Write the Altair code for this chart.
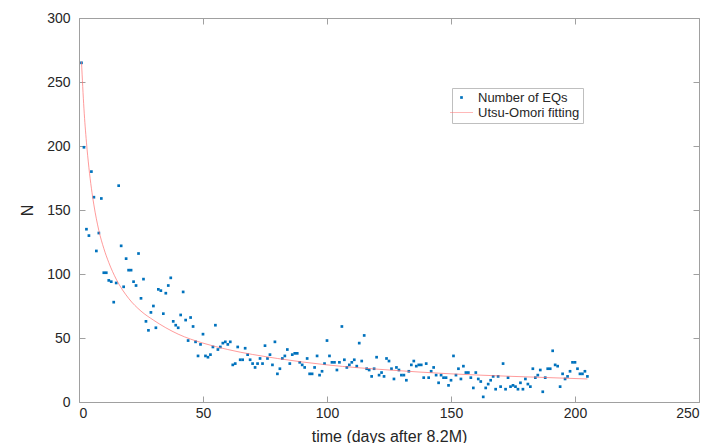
import altair as alt
import pandas as pd

# ---- data ----
days = list(range(1, 206))
counts = [
    265, 199, 135, 130, 180, 160, 118, 132, 159, 101,
    101, 95, 94, 78, 93, 169, 122, 90, 112, 103,
    103, 94, 91, 116, 81, 96, 63, 56, 70, 75,
    58, 88, 87, 69, 85, 91, 97, 63, 60, 58,
    68, 86, 64, 48, 66, 59, 47, 36, 45, 53,
    36, 35, 37, 43, 60, 41, 43, 46, 47, 45,
    47, 29, 30, 43, 33, 33, 42, 37, 33, 30,
    27, 30, 34, 30, 44, 34, 37, 29, 47, 22,
    26, 34, 36, 41, 30, 37, 38, 38, 31, 29,
    27, 34, 22, 22, 27, 36, 21, 24, 30, 48,
    36, 31, 31, 25, 31, 59, 33, 27, 29, 31,
    33, 28, 46, 32, 52, 26, 25, 20, 26, 35,
    21, 23, 20, 34, 32, 26, 18, 27, 25, 21,
    21, 17, 24, 29, 32, 28, 29, 29, 19, 30,
    19, 24, 27, 21, 15, 21, 19, 19, 13, 17,
    36, 21, 26, 18, 28, 23, 23, 19, 11, 23,
    18, 16, 4, 11, 14, 17, 20, 10, 20, 12,
    30, 10, 19, 12, 13, 12, 10, 15, 10, 18,
    14, 12, 26, 19, 21, 25, 8, 19, 26, 26,
    40, 29, 28, 12, 22, 18, 20, 24, 31, 31,
    26, 22, 22, 24, 20,
]
fit_days = [1, 2, 3, 4, 5, 6, 8, 10, 12, 15, 20, 25, 30, 40, 50, 60, 80, 100, 125, 150, 175, 205]
fit_values = [266, 229, 203, 183, 167, 154, 134, 120, 109, 96, 81, 71, 64, 53, 46, 41, 34, 29, 25, 22, 20, 18]
series_names = ["Number of EQs", "Utsu-Omori fitting"]
x_ticks = [0, 50, 100, 150, 200, 250]
y_ticks = [0, 50, 100, 150, 200, 250, 300]

pts = pd.DataFrame({"t": days, "N": counts, "series": series_names[0]})
fit = pd.DataFrame({"t": fit_days, "N": fit_values, "series": series_names[1]})

FONT = "Liberation Sans"
AXIS_GRAY = "#a0a0a0"
TEXT = "#262626"
FIT_RED = "#FF7070"

dot_path = "M-0.27,-0.27L0.27,-0.27L0.27,0.27L-0.27,0.27Z"
line_path = "M-2.3,-0.05L2.3,-0.05L2.3,0.05L-2.3,0.05Z"

xscale = alt.Scale(domain=[0, 250], nice=False, zero=False)
yscale = alt.Scale(domain=[0, 300], nice=False)
color_scale = alt.Scale(domain=series_names, range=["#0072BD", FIT_RED])
shape_scale = alt.Scale(domain=series_names, range=[dot_path, line_path])

common = dict(
    tickSize=6, offset=-6, domain=False, grid=False, tickColor=AXIS_GRAY,
    labelColor=TEXT, labelFont=FONT, labelFontSize=14,
    titleFont=FONT, titleFontSize=16, titleColor=TEXT, titleFontWeight="normal",
)

legend = alt.Legend(
    orient="none", legendX=373, legendY=70,
    symbolSize=100, symbolStrokeWidth=0, symbolOpacity=1,
    labelFont=FONT, labelFontSize=13, labelColor=TEXT,
    strokeColor="#bfbfbf", fillColor="white",
    padding=3, labelOffset=10, rowPadding=1,
)

points = alt.Chart(pts).mark_point(filled=True, size=100, opacity=1).encode(
    x=alt.X("t:Q", scale=xscale, title="time (days after 8.2M)",
            axis=alt.Axis(orient="bottom", values=x_ticks, labelPadding=4, titlePadding=8, **common)),
    y=alt.Y("N:Q", scale=yscale, title="N",
            axis=alt.Axis(orient="left", values=y_ticks, labelPadding=9, titlePadding=11, **common)),
    color=alt.Color("series:N", scale=color_scale, title=None, legend=legend),
    shape=alt.Shape("series:N", scale=shape_scale, title=None, legend=legend),
)

line = alt.Chart(fit).mark_line(strokeWidth=0.7, interpolate="monotone", color=FIT_RED).encode(
    x=alt.X("t:Q", scale=xscale, title="",
            axis=alt.Axis(orient="top", values=x_ticks, labels=False, **common)),
    y=alt.Y("N:Q", scale=yscale, title="",
            axis=alt.Axis(orient="right", values=y_ticks, labels=False, **common)),
)

chart = (
    alt.layer(points, line)
    .resolve_axis(x="independent", y="independent")
    .properties(
        width=620, height=384,
        autosize=alt.AutoSizeParams(type="none"),
        padding={"left": 79, "top": 18, "right": 14, "bottom": 41},
        background="white",
    )
    .configure_view(stroke=AXIS_GRAY, strokeWidth=1)
)

chart.save("out.html", embed_options={"renderer": "svg", "actions": False})
